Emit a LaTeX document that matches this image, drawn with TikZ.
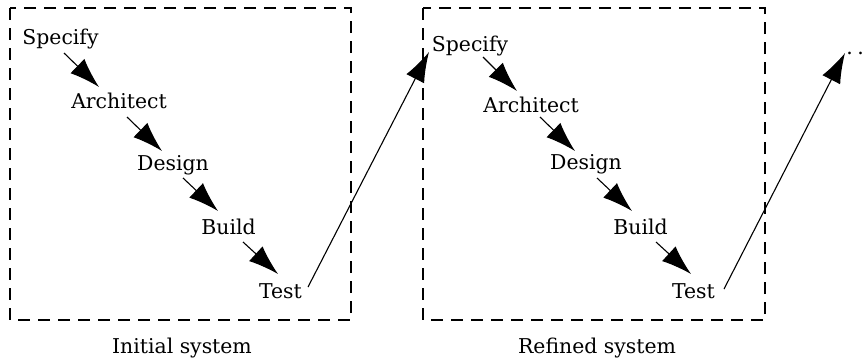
\documentclass[tikz,border=0pt]{standalone}
\usepackage{fontspec}
\setmainfont{DejaVu Serif}
\usetikzlibrary{arrows.meta}
\begin{document}
\begin{tikzpicture}[x=0.5pt,y=-0.5pt,
  lbl/.style={anchor=base,inner sep=0pt,font=\fontsize{10.2pt}{12pt}\selectfont},
  flow/.style={line width=0.55pt,-{Latex[length=15pt,width=10pt]}},
  frame/.style={line width=0.6pt,dash pattern=on 6pt off 4pt}]
\useasboundingbox (0,0) rectangle (866,361);
\draw[frame] (10,8) rectangle (351,320);
\draw[frame] (423,8) rectangle (765,320);
% box 1
\node[lbl] (s1) at (60.5,44) {Specify};
\node[lbl] (a1) at (119,108) {Architect};
\node[lbl] (d1) at (173,170) {Design};
\node[lbl] (b1) at (228.5,234) {Build};
\node[lbl] (t1) at (280.5,298) {Test};
% box 2
\node[lbl] (s2) at (470,51) {Specify};
\node[lbl] (a2) at (531,112) {Architect};
\node[lbl] (d2) at (586,169) {Design};
\node[lbl] (b2) at (640.5,234) {Build};
\node[lbl] (t2) at (693.5,298) {Test};
\node[lbl,anchor=base west] (dots) at (846,54) {.\kern2.3pt.\kern2.3pt.};
% captions
\node[lbl] (c1) at (182,353) {Initial system};
\node[lbl] (c2) at (597,353) {Refined system};
% arrows box 1
\draw[flow] ([shift={(3.5,9)}]s1.base) -- ([shift={(-20,-21)}]a1.base);
\draw[flow] ([shift={(8,9)}]a1.base) -- ([shift={(-11,-19)}]d1.base);
\draw[flow] ([shift={(10,8)}]d1.base) -- ([shift={(-10.5,-23)}]b1.base);
\draw[flow] ([shift={(14.5,8)}]b1.base) -- ([shift={(-2.5,-24)}]t1.base);
\draw[flow] ([shift={(27.5,-11)}]t1.base) -- ([shift={(-41,1)}]s2.base);
% arrows box 2
\draw[flow] ([shift={(13,6)}]s2.base) -- ([shift={(-14,-21)}]a2.base);
\draw[flow] ([shift={(9,5)}]a2.base) -- ([shift={(-11,-18)}]d2.base);
\draw[flow] ([shift={(11,9)}]d2.base) -- ([shift={(-8.5,-23)}]b2.base);
\draw[flow] ([shift={(15.5,8)}]b2.base) -- ([shift={(-2.5,-24)}]t2.base);
\draw[flow] ([shift={(30.5,-9)}]t2.base) -- ([shift={(-1,-1)}]dots.base west);
\end{tikzpicture}
\end{document}
